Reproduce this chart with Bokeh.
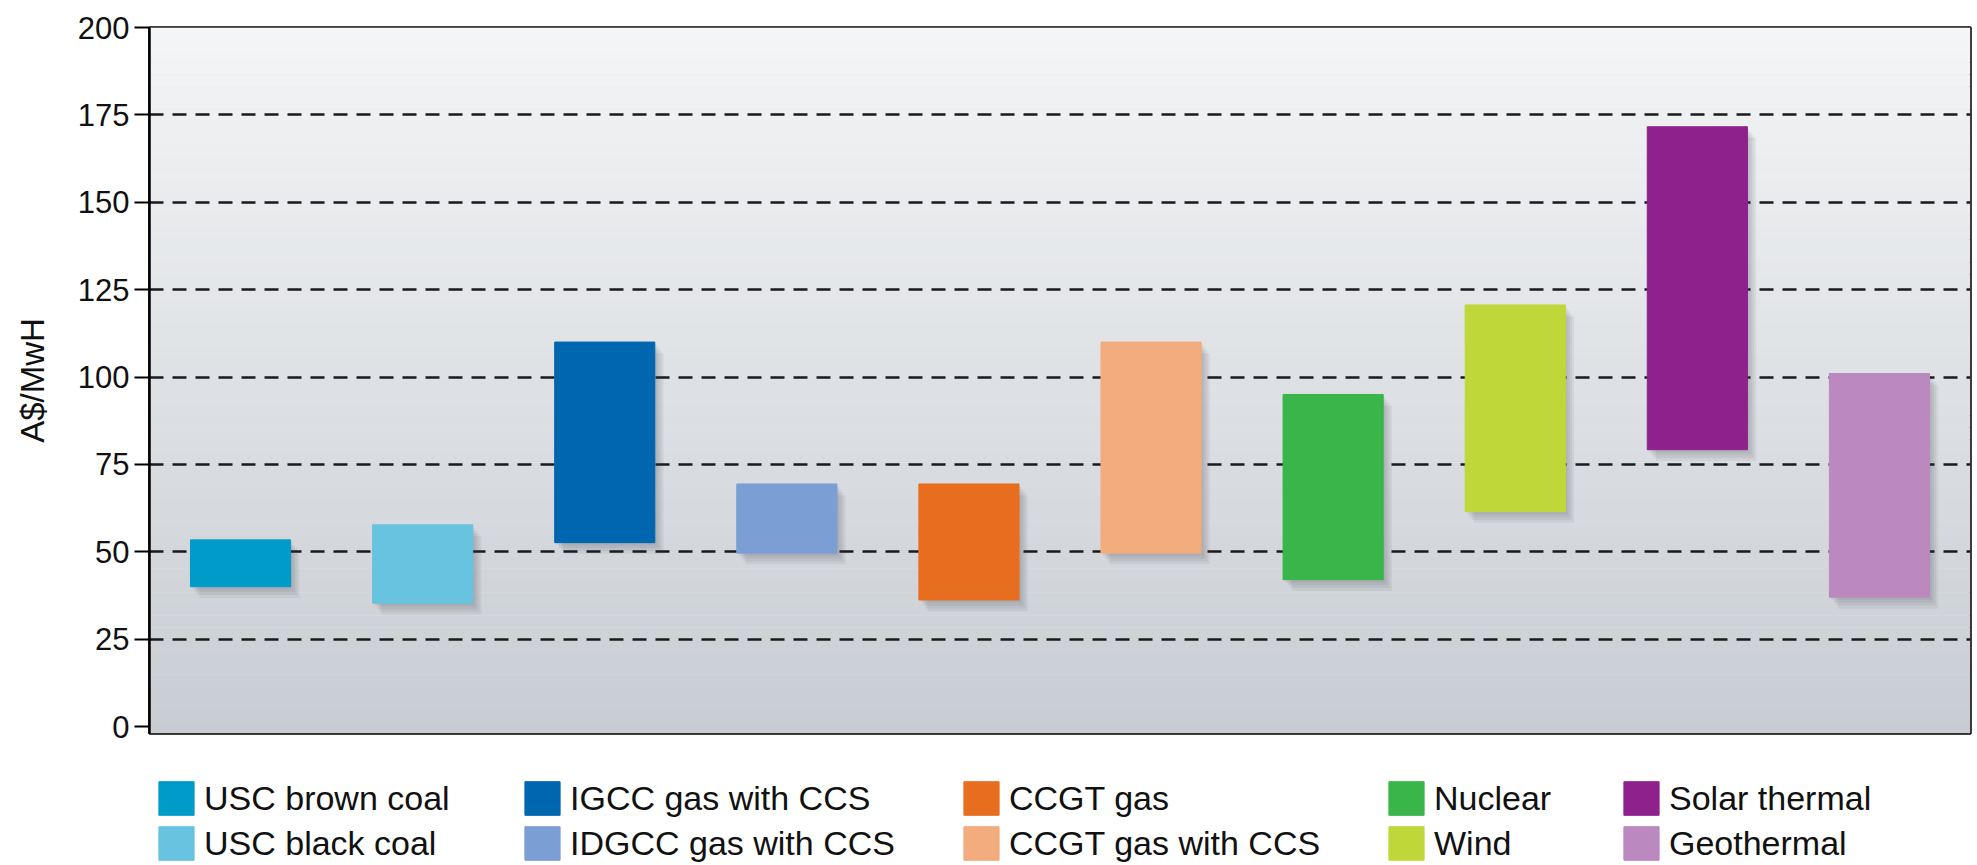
from bokeh.plotting import figure
from bokeh.models import (ColumnDataSource, Legend, LegendItem, BoxAnnotation,
                          FixedTicker, Range1d)
from bokeh.layouts import column
from bokeh.transform import dodge
from bokeh.embed import file_html
from bokeh.resources import INLINE

# ---- data ----
categories = ["USC brown coal", "USC black coal", "IGCC gas with CCS", "IDGCC gas with CCS",
              "CCGT gas", "CCGT gas with CCS", "Nuclear", "Wind", "Solar thermal", "Geothermal"]
cost_low = [40.0, 35.3, 52.6, 49.6, 36.2, 49.6, 42.0, 61.5, 79.2, 37.0]
cost_high = [53.4, 57.7, 110.0, 69.4, 69.4, 110.0, 95.0, 120.6, 171.6, 101.0]
colors = ["#009BC8", "#67C3DF", "#0066B0", "#7B9FD4", "#E86E1F",
          "#F2AC7D", "#39B54A", "#BFD739", "#8E218C", "#BB88C0"]
y_ticks = [0, 25, 50, 75, 100, 125, 150, 175, 200]
grid_ticks = [25, 50, 75, 100, 125, 150, 175]
legend_columns = [[0, 1], [2, 3], [4, 5], [6, 7], [8, 9]]

src = ColumnDataSource(dict(cat=categories, low=cost_low, high=cost_high, color=colors))

W = 1974
p = figure(x_range=categories, y_range=Range1d(-2, 200),
           width=W, height=767, output_backend="svg", toolbar_location=None,
           min_border_left=149, min_border_right=4, min_border_top=27, min_border_bottom=34)

# background gradient (decoration)
top_c = (0xF4, 0xF5, 0xF6)
bot_c = (0xC8, 0xCD, 0xD3)
n_bands = 60
y0, y1 = -2.0, 200.0
for i in range(n_bands):
    t = (i + 0.5) / n_bands
    c = tuple(int(round(bot_c[k] + (top_c[k] - bot_c[k]) * t)) for k in range(3))
    b = y0 + (y1 - y0) * i / n_bands
    tp = y0 + (y1 - y0) * (i + 1) / n_bands + 0.05
    p.add_layout(BoxAnnotation(bottom=b, top=tp, fill_color="#%02x%02x%02x" % c,
                               fill_alpha=1, line_alpha=0, level="image"))

# shadows
for k in range(1, 5):
    p.vbar(x=dodge("cat", 0.012 * k, range=p.x_range), top=dodge("high", -0.8 * k),
           bottom=dodge("low", -0.8 * k), width=0.55, source=src,
           fill_color="#3a3f48", fill_alpha=0.07, line_alpha=0)

bars = p.vbar(x="cat", top="high", bottom="low", width=0.55, source=src,
              fill_color="color", line_color="color")

# axes
p.xaxis.visible = False
p.yaxis.ticker = FixedTicker(ticks=y_ticks)
p.yaxis.axis_label = "A$/MwH"
p.yaxis.axis_label_text_font_style = "normal"
p.yaxis.axis_label_text_font = "Liberation Sans"
p.yaxis.axis_label_text_font_size = "33px"
p.yaxis.axis_label_text_color = "#111111"
p.yaxis.axis_label_standoff = 24
p.yaxis.major_label_text_font = "Liberation Sans"
p.yaxis.major_label_text_font_size = "31px"
p.yaxis.major_label_text_color = "#111111"
p.yaxis.major_label_standoff = 5
p.yaxis.major_tick_out = 15
p.yaxis.major_tick_in = 0
p.yaxis.minor_tick_out = 0
p.yaxis.minor_tick_in = 0
p.yaxis.major_tick_line_width = 2
p.yaxis.axis_line_width = 2.5
p.yaxis.axis_line_color = "black"
p.yaxis.major_tick_line_color = "black"

p.xgrid.visible = False
p.ygrid.ticker = FixedTicker(ticks=grid_ticks)
p.ygrid.grid_line_color = "#1a1a1a"
p.ygrid.grid_line_width = 2.7
p.ygrid.grid_line_dash = "14 9"

p.outline_line_color = "black"
p.outline_line_width = 2.5
p.background_fill_color = "#e0e2e5"
p.border_fill_color = "white"

# legend strip (separate figure; its bars lie outside its visible range)
lf = figure(x_range=categories, y_range=Range1d(1000, 1001), width=W, height=98,
            output_backend="svg", toolbar_location=None,
            min_border_left=149, min_border_right=4, min_border_top=0, min_border_bottom=0)
lf.axis.visible = False
lf.grid.visible = False
lf.outline_line_alpha = 0
lf.background_fill_color = "white"
lbars = lf.vbar(x="cat", top="high", bottom="low", width=0.55, source=src,
                fill_color="color", line_color="color")

col_x = [5, 371, 810, 1235, 1470]
for ci, idxs in enumerate(legend_columns):
    items = [LegendItem(label=categories[i], renderers=[lbars], index=i) for i in idxs]
    lg = Legend(items=items, location=(col_x[ci], 1), orientation="vertical",
                glyph_width=44, glyph_height=42, spacing=3, padding=0, margin=0,
                label_standoff=6, label_text_font="Liberation Sans",
                label_text_font_size="34px", label_text_color="#111111",
                border_line_alpha=0, background_fill_alpha=0, label_height=42)
    lf.add_layout(lg)

layout = column(p, lf, spacing=0)
open("out.html", "w").write(file_html(layout, INLINE))
